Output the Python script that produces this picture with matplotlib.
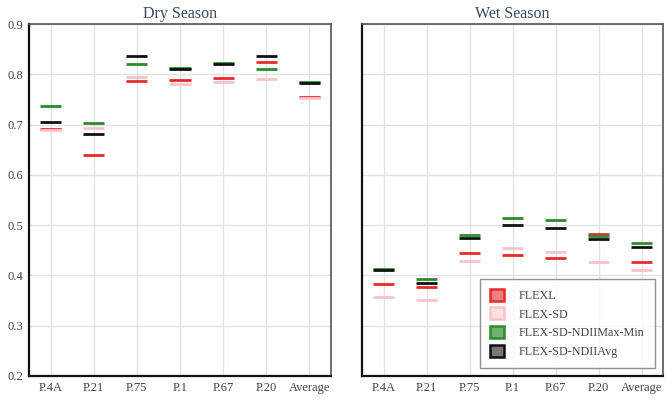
import numpy as np
import matplotlib.pyplot as plt
from matplotlib.patches import Patch

plt.rcParams['font.family'] = ['Liberation Serif', 'DejaVu Serif']

# Data
stations = ['P.4A', 'P.21', 'P.75', 'P.1', 'P.67', 'P.20', 'Average']
series = ['FLEXL', 'FLEX-SD', 'FLEX-SD-NDIIMax-Min', 'FLEX-SD-NDIIAvg']
colors = ['#e52b2b', '#f9c3cb', '#2e8b2e', '#111111']
fills = ['#f08080', '#fde0e4', '#6fb36f', '#777777']

dry_flexl = [0.692, 0.639, 0.787, 0.788, 0.793, 0.824, 0.754]
dry_flexsd = [0.690, 0.693, 0.795, 0.781, 0.785, 0.791, 0.753]
dry_maxmin = [0.737, 0.703, 0.820, 0.813, 0.822, 0.811, 0.784]
dry_avg = [0.705, 0.682, 0.836, 0.811, 0.820, 0.836, 0.782]

wet_flexl = [0.382, 0.377, 0.444, 0.440, 0.434, 0.482, 0.427]
wet_flexsd = [0.358, 0.352, 0.428, 0.455, 0.447, 0.427, 0.411]
wet_maxmin = [0.413, 0.392, 0.480, 0.515, 0.510, 0.478, 0.465]
wet_avg = [0.411, 0.385, 0.474, 0.500, 0.494, 0.473, 0.456]

panels = [
    ('Dry Season', [dry_flexl, dry_flexsd, dry_maxmin, dry_avg]),
    ('Wet Season', [wet_flexl, wet_flexsd, wet_maxmin, wet_avg]),
]

fig = plt.figure(figsize=(6.65, 4), dpi=100)
ax_pos = [[0.0436, 0.06, 0.4541, 0.88], [0.5444, 0.06, 0.4526, 0.88]]

x = np.arange(len(stations))
half = 0.245

for i, (title, vals) in enumerate(panels):
    ax = fig.add_axes(ax_pos[i])
    for s, v in enumerate(vals):
        ax.hlines(v, x - half, x + half, colors=colors[s], lw=2.0, zorder=3 + s)
    ax.set_xlim(-0.5, len(stations) - 0.5)
    ax.set_ylim(0.2, 0.9)
    ax.set_xticks(x)
    ax.set_xticklabels(stations)
    ax.set_yticks(np.arange(0.2, 0.91, 0.1))
    if i == 0:
        ax.set_yticklabels([f'{t:.1f}' for t in np.arange(0.2, 0.91, 0.1)])
    else:
        ax.set_yticklabels([])
    ax.grid(True, color='#e3e3e3', lw=1.0, zorder=0)
    ax.set_axisbelow(True)
    ax.tick_params(length=0, labelsize=9, colors='#444444', pad=4)
    for side in ['left', 'bottom']:
        ax.spines[side].set_color('#111111')
        ax.spines[side].set_linewidth(1.6)
    for side in ['top', 'right']:
        ax.spines[side].set_color('#555555')
        ax.spines[side].set_linewidth(1.2)
    ax.set_title(title, fontsize=11.5, color='#3a4a5f', pad=4)

    if i == 1:
        handles = [Patch(facecolor=fills[s], edgecolor=colors[s], lw=1.8, label=series[s])
                   for s in range(len(series))]
        leg = ax.legend(handles=handles, loc='lower right', bbox_to_anchor=(0.973, 0.023),
                        fontsize=8.7, frameon=True, fancybox=False, handlelength=1.15,
                        handleheight=1.15, handletextpad=1.25, borderpad=0.85,
                        labelspacing=0.45, borderaxespad=0)
        leg.get_frame().set_edgecolor('#777777')
        leg.get_frame().set_linewidth(1.0)
        for t in leg.get_texts():
            t.set_color('#444444')

fig.savefig('out.png', dpi=100)
